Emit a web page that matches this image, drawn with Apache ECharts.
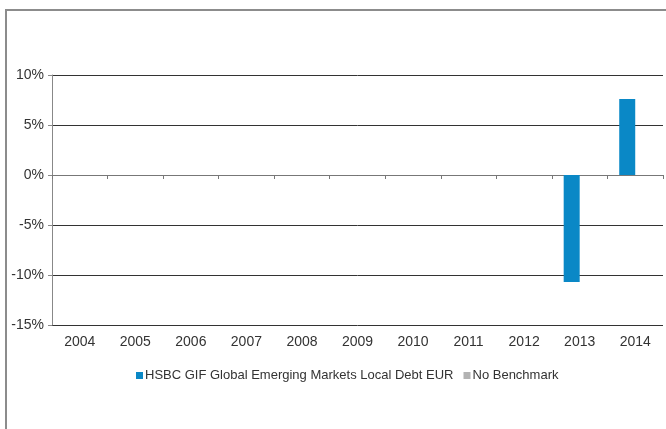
<!DOCTYPE html>
<html><head><meta charset="utf-8">
<script src="https://cdn.jsdelivr.net/npm/echarts@6/dist/echarts.min.js"></script>
<style>html,body{margin:0;padding:0;background:#fff}#c{width:666px;height:429px}</style>
</head><body><div id="c"></div>
<script>
var categories = ['2004','2005','2006','2007','2008','2009','2010','2011','2012','2013','2014'];
var fundValues = [null,null,null,null,null,null,null,null,null,-10.7,7.6];
var benchmarkValues = [null,null,null,null,null,null,null,null,null,null,null];
var fundName = 'HSBC GIF Global Emerging Markets Local Debt EUR';
var benchName = 'No Benchmark';
var FONT = '"Liberation Sans", Arial, sans-serif';

var chart = echarts.init(document.getElementById('c'), null, {renderer:'canvas'});
chart.setOption({
  animation:false,
  backgroundColor:'#fff',
  graphic:[{type:'rect', shape:{x:6,y:10,width:700,height:450}, style:{fill:'none', stroke:'#8c8c8c', lineWidth:2}, silent:true, z:-1}],
  grid:{left:52, right:3, top:75, bottom:104, containLabel:false},
  legend:{
    top:364, left:131, itemWidth:7, itemHeight:7, itemGap:10, icon:'rect',
    textStyle:{fontFamily:FONT, fontSize:13, color:'#333', padding:[0,0,0,-3]},
    data:[fundName, benchName]
  },
  xAxis:[{
    type:'category', data:categories,
    axisLine:{onZero:true, lineStyle:{color:'#777', width:1}},
    axisTick:{show:true, length:4, inside:false, lineStyle:{color:'#777'}},
    axisLabel:{show:false}, splitLine:{show:false}
  },{
    type:'category', data:categories, position:'bottom',
    axisLine:{show:false, onZero:false}, axisTick:{show:false},
    axisLabel:{fontFamily:FONT, fontSize:14, color:'#333', margin:10}
  }],
  yAxis:{
    type:'value', min:-15, max:10, interval:5,
    axisLine:{show:true, lineStyle:{color:'#888'}},
    axisTick:{show:true, length:4, lineStyle:{color:'#888'}},
    axisLabel:{fontFamily:FONT, fontSize:14, color:'#333', margin:8, formatter:'{value}%'},
    splitLine:{show:true, lineStyle:{color:'#333', width:1}}
  },
  series:[{
    name:fundName, type:'bar', data:fundValues, barWidth:16, barGap:'0%',
    itemStyle:{color:'#0a88c6'}
  },{
    name:benchName, type:'bar', data:benchmarkValues, barWidth:16, barGap:'0%',
    itemStyle:{color:'#b3b3b3'}
  }]
});
</script></body></html>
